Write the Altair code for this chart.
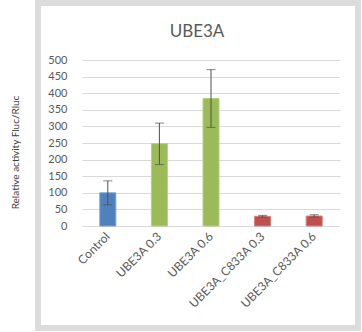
import altair as alt
import pandas as pd

categories = ["Control", "UBE3A 0.3", "UBE3A 0.6", "UBE3A_C833A 0.3", "UBE3A_C833A 0.6"]
values = [100, 248, 384, 29, 30]
err_low = [64, 185, 297, 27, 27]
err_high = [136, 310, 471, 32, 34]
bar_colors = ["#4f81bd", "#9bbb59", "#9bbb59", "#c0504d", "#c0504d"]
edge_colors = ["#7da1d4", "#b5d07e", "#b5d07e", "#d87d7a", "#d87d7a"]
title_text = "UBE3A"

df = pd.DataFrame({
    "cat": categories,
    "val": values,
    "lo": err_low,
    "hi": err_high,
    "color": bar_colors,
    "edge": edge_colors,
})

FONT = "Lato"
GREY = "#595959"

xenc = alt.X(
    "cat:N",
    sort=categories,
    scale=alt.Scale(paddingInner=0, paddingOuter=0),
    axis=alt.Axis(
        title=None, labelAngle=315, labelAlign="right", labelBaseline="middle",
        labelPadding=8, domain=False, ticks=False, labelFont=FONT,
        labelFontSize=12, labelColor=GREY, labelLimit=200,
    ),
)
yaxis = alt.Axis(
    title="Relative activity Fluc/Rluc", values=list(range(0, 501, 50)),
    domain=False, ticks=False, grid=True, gridColor="#d9d9d9",
    labelOverlap=False,
    labelFont=FONT, labelFontSize=11, labelColor=GREY, labelPadding=15,
    titleFont=FONT, titleFontSize=10, titleFontWeight="normal",
    titleColor="#404040", titleAngle=270, titleX=-67, titleY=92,
    titleAlign="center", titleBaseline="middle",
)
yscale = alt.Scale(domain=[0, 500], nice=False)

base = alt.Chart(df)

frame = base.mark_rect(fill="transparent", stroke="#dcdcdc", strokeWidth=6).encode(
    x=alt.value(-44), x2=alt.value(276), y=alt.value(-57), y2=alt.value(268)
).transform_filter(alt.datum.cat == "Control")

title = base.mark_text(
    font=FONT, fontSize=17, color=GREY, align="center", baseline="alphabetic"
).encode(
    x=alt.value(115), y=alt.value(-23), text=alt.value(title_text)
).transform_filter(alt.datum.cat == "Control")

bars = base.mark_bar(size=16, strokeWidth=1).encode(
    x=xenc,
    y=alt.Y("val:Q", scale=yscale, axis=yaxis),
    color=alt.Color("color:N", scale=None),
    stroke=alt.Stroke("edge:N", scale=None),
)

rules = base.mark_rule(color="#505050", strokeWidth=1).encode(
    x=alt.X("cat:N", sort=categories), y=alt.Y("lo:Q", scale=yscale, axis=yaxis), y2="hi:Q"
)
cap_lo = base.mark_tick(color="#505050", size=9, thickness=1, orient="horizontal").encode(
    x=alt.X("cat:N", sort=categories), y=alt.Y("lo:Q", scale=yscale, axis=yaxis)
)
cap_hi = base.mark_tick(color="#505050", size=9, thickness=1, orient="horizontal").encode(
    x=alt.X("cat:N", sort=categories), y=alt.Y("hi:Q", scale=yscale, axis=yaxis)
)

chart = alt.layer(frame, bars, rules, cap_lo, cap_hi, title).properties(
    width=258,
    height=166,
    autosize=alt.AutoSizeParams(type="none"),
    padding={"left": 82, "top": 60, "right": 22, "bottom": 106},
    background="white",
).configure_view(stroke=None)

chart.save("out.html", embed_options={"renderer": "svg", "actions": False})
